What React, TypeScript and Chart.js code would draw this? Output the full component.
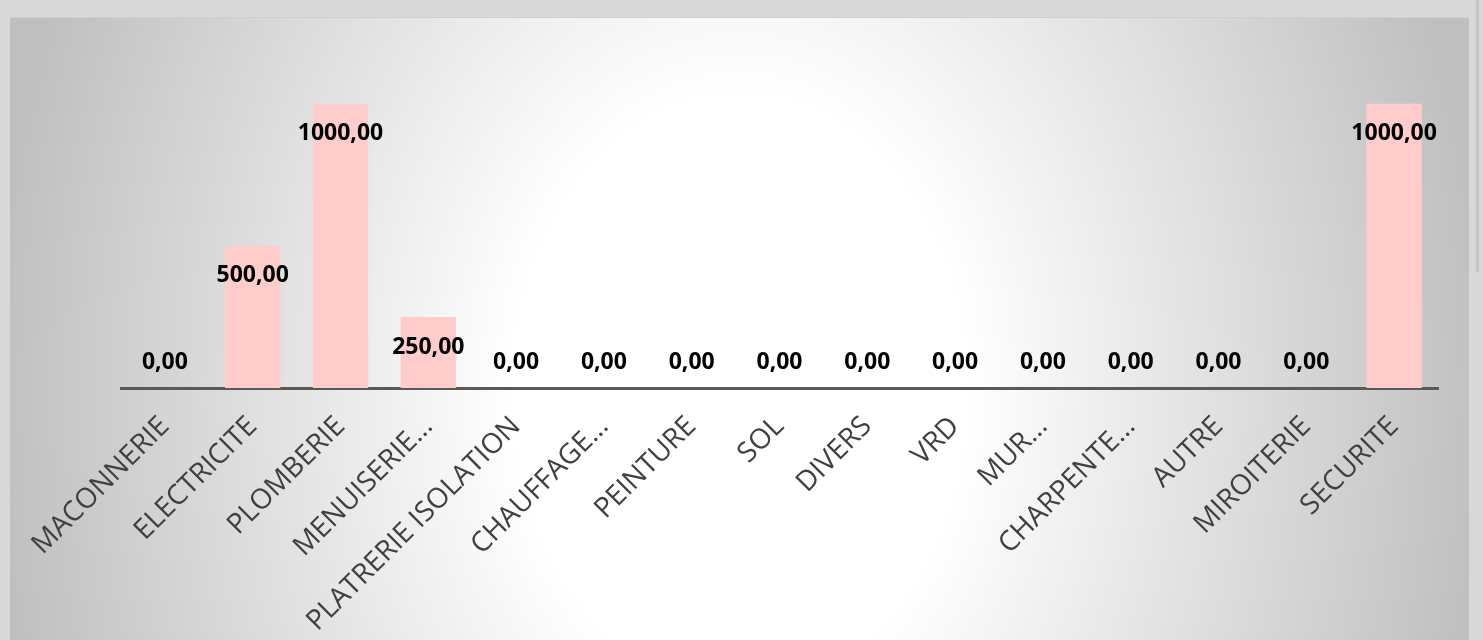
import React, { useEffect, useRef } from "react";
import { Chart, registerables } from "chart.js";

Chart.register(...registerables);

const categories = [
  "MACONNERIE",
  "ELECTRICITE",
  "PLOMBERIE",
  "MENUISERIE…",
  "PLATRERIE ISOLATION",
  "CHAUFFAGE…",
  "PEINTURE",
  "SOL",
  "DIVERS",
  "VRD",
  "MUR…",
  "CHARPENTE…",
  "AUTRE",
  "MIROITERIE",
  "SECURITE",
];

const values = [0, 500, 1000, 250, 0, 0, 0, 0, 0, 0, 0, 0, 0, 0, 1000];

const formatValue = (v: number) => v.toFixed(2).replace(".", ",");

const labelPlugin = {
  id: "valueLabels",
  afterDatasetsDraw(chart: any) {
    const ctx = chart.ctx;
    const meta = chart.getDatasetMeta(0);
    ctx.save();
    ctx.font = "bold 23px 'Open Sans'";
    ctx.fillStyle = "#000000";
    ctx.textAlign = "center";
    ctx.textBaseline = "middle";
    meta.data.forEach((bar: any, i: number) => {
      const y = Math.min(bar.y + 30, bar.base - 26);
      ctx.fillText(formatValue(values[i]), bar.x, y);
    });
    ctx.restore();
  },
};

export default function App() {
  const canvasRef = useRef<HTMLCanvasElement | null>(null);

  useEffect(() => {
    if (!canvasRef.current) return;
    const chart = new Chart(canvasRef.current, {
      type: "bar",
      data: {
        labels: categories,
        datasets: [
          {
            data: values,
            backgroundColor: "#ffcccc",
            borderWidth: 0,
            categoryPercentage: 1,
            barPercentage: 0.63,
          },
        ],
      },
      options: {
        animation: false,
        responsive: true,
        maintainAspectRatio: false,
        layout: { padding: { left: 111, right: 31, top: 29, bottom: 0 } },
        plugins: {
          legend: { display: false },
          tooltip: { enabled: false },
        },
        scales: {
          x: {
            grid: { display: false },
            border: { display: true, color: "#595959", width: 3 },
            ticks: {
              color: "#404040",
              font: { family: "'Open Sans'", size: 28 },
              maxRotation: 45,
              minRotation: 45,
              autoSkip: false,
              padding: 14,
            },
            afterFit(scale: any) {
              scale.height = 253;
              scale.paddingLeft = 0;
              scale.paddingRight = 0;
            },
          },
          y: {
            display: false,
            min: 0,
            max: 1200,
          },
        },
      },
      plugins: [labelPlugin],
    });
    return () => chart.destroy();
  }, []);

  return (
    <div
      style={{
        position: "fixed",
        left: 0,
        top: 0,
        width: 1483,
        height: 640,
        background: "#d9d9d9",
        overflow: "hidden",
      }}
    >
      <div
        style={{
          position: "absolute",
          left: 10,
          top: 17,
          width: 1459,
          height: 623,
          borderTop: "1px solid #cfcfcf",
          background:
            "radial-gradient(ellipse 750px 980px at 730px 373px, #ffffff 30%, #bfbfbf 100%)",
        }}
      >
        <canvas ref={canvasRef} />
      </div>
      <div
        style={{
          position: "absolute",
          left: 1476,
          top: 0,
          width: 3,
          height: 272,
          background: "#c4c4c4",
        }}
      />
    </div>
  );
}
